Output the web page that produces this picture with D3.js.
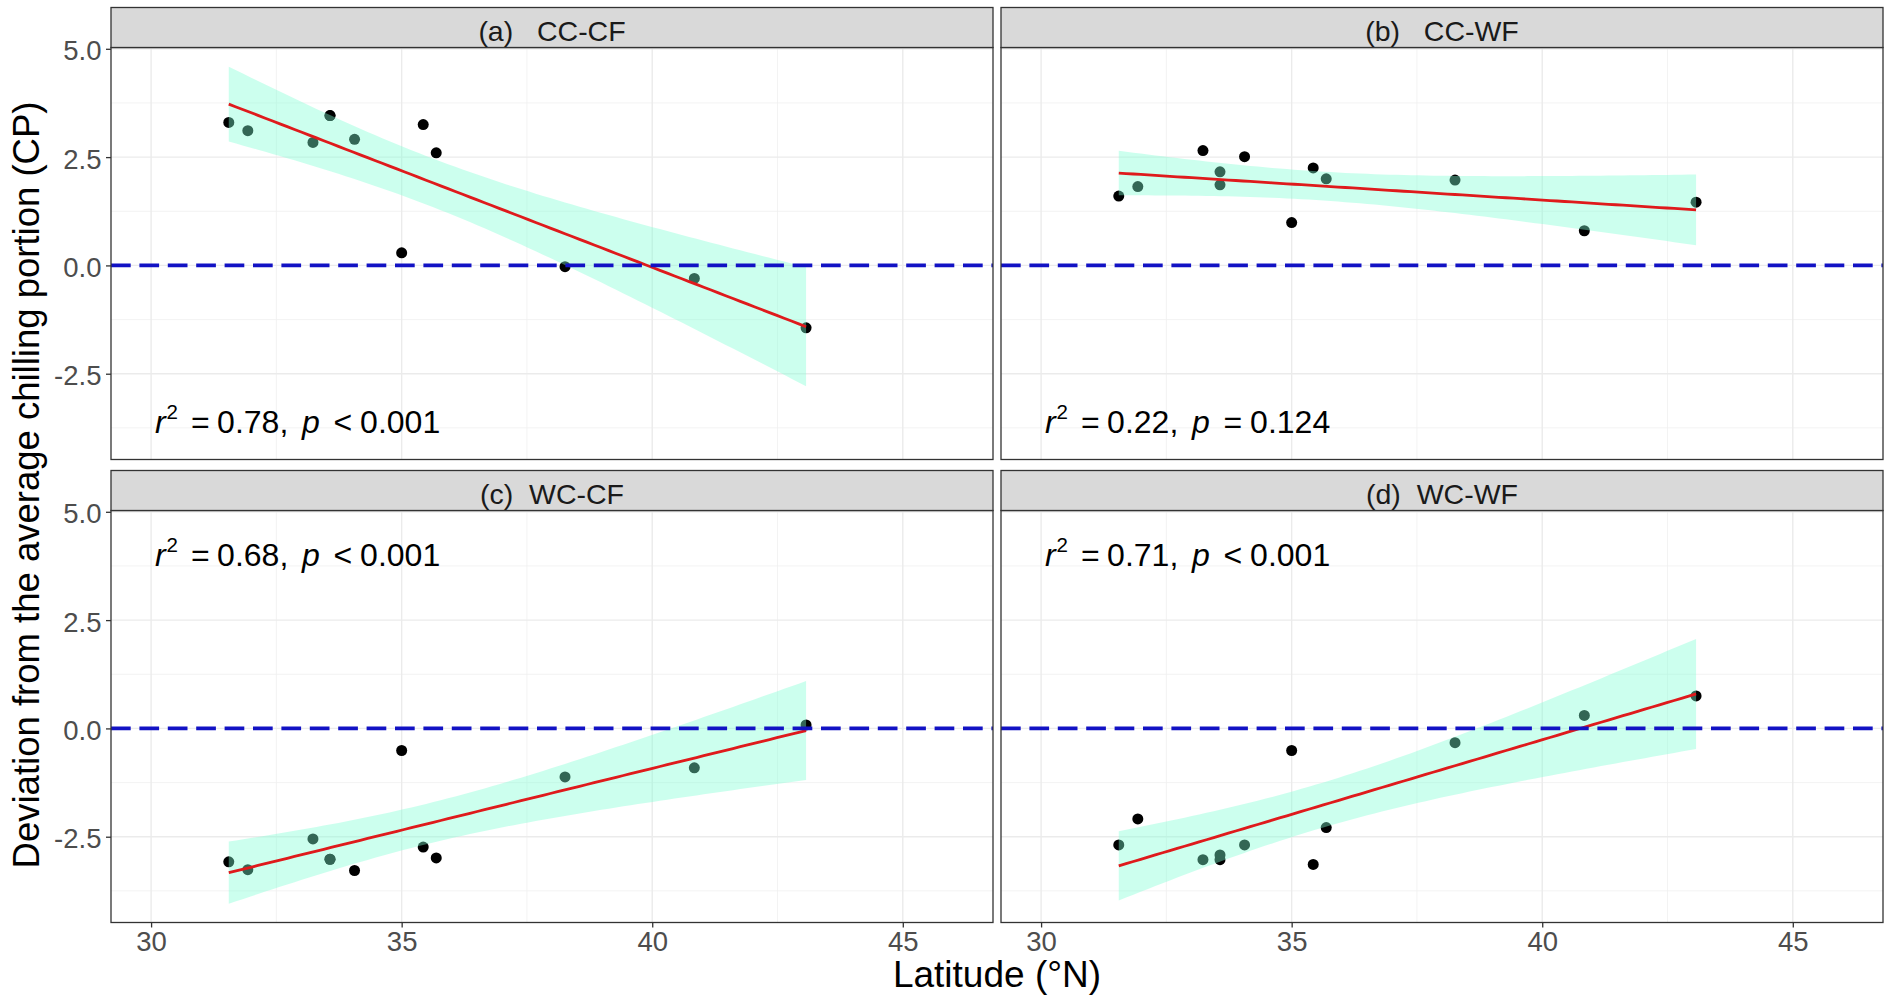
<!DOCTYPE html>
<html>
<head>
<meta charset="utf-8">
<script src="https://cdn.jsdelivr.net/npm/d3@7"></script>
<style>
  body { margin: 0; background: #ffffff; }
  svg text { font-family: "Liberation Sans", Arial, Helvetica, sans-serif; }
</style>
</head>
<body>
<svg id="chart" width="1889" height="998"></svg>
<script>
// Site latitudes (°N), shared by all four panels
const latitude = [31.55, 31.93, 33.23, 33.57, 33.57, 34.06, 35.00, 35.43, 35.69, 38.26, 40.84, 43.07];

// Deviation from the average chilling portion (CP) per scenario
const ccCF = [3.30, 3.11, 2.84, 3.46, 3.46, 2.91, 0.29, 3.25, 2.60, -0.03, -0.30, -1.44];
const ccWF = [1.60, 1.82, 2.65, 2.16, 1.86, 2.51, 0.99, 2.25, 2.00, 1.97, 0.80, 1.46];
const wcCF = [-3.08, -3.26, -2.55, -3.02, -3.02, -3.28, -0.51, -2.74, -2.99, -1.12, -0.91, 0.08];
const wcWF = [-2.69, -2.09, -3.03, -3.03, -2.92, -2.69, -0.51, -3.14, -2.29, -0.33, 0.30, 0.75];

const panelTitles = ["(a)   CC-CF", "(b)   CC-WF", "(c)  WC-CF", "(d)  WC-WF"];
const r2Values = ["0.78", "0.22", "0.68", "0.71"];
const pValues = ["< 0.001", "= 0.124", "< 0.001", "< 0.001"];
const statLabelX = 30.08;
const statLabelY = [-3.86, -3.86, 3.76, 3.76];

const xTicks = [30, 35, 40, 45];
const xMinorTicks = [32.5, 37.5, 42.5];
const yTicks = [-2.5, 0, 2.5, 5.0];
const yMinorTicks = [-3.75, -1.25, 1.25, 3.75];
const xLimits = [29.2, 46.8];
const yLimits = [-4.48, 5.03];
const referenceLevel = 0;

const xTitle = "Latitude (°N)";
const yTitle = "Deviation from the average chilling portion (CP)";

// ---------- layout ----------
const font = '"Liberation Sans", Arial, Helvetica, sans-serif';
const colX = [111, 1001];
const rowY = [7.5, 470.5];
const panelW = 882, panelH = 412, stripH = 40;

const series = [ccCF, ccWF, wcCF, wcWF];

// Ordinary least squares fit with a 95% confidence band, as geom_smooth(method = "lm")
const tCrit = { 9: 2.262, 10: 2.228, 11: 2.201 };
function linearFit(xs, ys, steps = 80) {
  const n = xs.length;
  const mx = d3.mean(xs), my = d3.mean(ys);
  let sxx = 0, sxy = 0;
  xs.forEach((x, i) => { sxx += (x - mx) ** 2; sxy += (x - mx) * (ys[i] - my); });
  const slope = sxy / sxx, intercept = my - slope * mx;
  let sse = 0;
  xs.forEach((x, i) => { sse += (ys[i] - intercept - slope * x) ** 2; });
  const s = Math.sqrt(sse / (n - 2));
  const t = tCrit[n - 2];
  const [lo, hi] = d3.extent(xs);
  return d3.range(steps).map(k => {
    const x = lo + (hi - lo) * k / (steps - 1);
    const fit = intercept + slope * x;
    const se = s * Math.sqrt(1 / n + (x - mx) ** 2 / sxx);
    return { x, fit, lower: fit - t * se, upper: fit + t * se };
  });
}

const svg = d3.select("#chart");

series.forEach((values, idx) => {
  const col = idx % 2, row = Math.floor(idx / 2);
  const left = colX[col];
  const stripTop = rowY[row];
  const top = stripTop + stripH;

  const x = d3.scaleLinear().domain(xLimits).range([left, left + panelW]);
  const y = d3.scaleLinear().domain(yLimits).range([top + panelH, top]);

  const g = svg.append("g");

  // panel background
  g.append("rect").attr("x", left).attr("y", top).attr("width", panelW).attr("height", panelH)
    .attr("fill", "#ffffff");

  // minor grid
  g.selectAll(".vminor").data(xMinorTicks).join("line")
    .attr("x1", d => x(d)).attr("x2", d => x(d)).attr("y1", top).attr("y2", top + panelH)
    .attr("stroke", "#F0F0F0").attr("stroke-width", 0.8);
  g.selectAll(".hminor").data(yMinorTicks).join("line")
    .attr("x1", left).attr("x2", left + panelW).attr("y1", d => y(d)).attr("y2", d => y(d))
    .attr("stroke", "#F0F0F0").attr("stroke-width", 0.8);
  // major grid
  g.selectAll(".vmajor").data(xTicks).join("line")
    .attr("x1", d => x(d)).attr("x2", d => x(d)).attr("y1", top).attr("y2", top + panelH)
    .attr("stroke", "#EBEBEB").attr("stroke-width", 1.4);
  g.selectAll(".hmajor").data(yTicks).join("line")
    .attr("x1", left).attr("x2", left + panelW).attr("y1", d => y(d)).attr("y2", d => y(d))
    .attr("stroke", "#EBEBEB").attr("stroke-width", 1.4);

  // observations
  g.selectAll(".pt").data(values.map((v, i) => ({ lat: latitude[i], v }))).join("circle")
    .attr("cx", d => x(d.lat)).attr("cy", d => y(d.v)).attr("r", 5.5)
    .attr("fill", "#000000");

  // regression with confidence band
  const fit = linearFit(latitude, values);
  g.append("path").datum(fit)
    .attr("d", d3.area().x(d => x(d.x)).y0(d => y(d.lower)).y1(d => y(d.upper)))
    .attr("fill", "#7FFFD4").attr("fill-opacity", 0.4);
  g.append("path").datum(fit)
    .attr("d", d3.line().x(d => x(d.x)).y(d => y(d.fit)))
    .attr("fill", "none").attr("stroke", "#DF1A1C").attr("stroke-width", 2.8);

  // reference line at zero deviation
  g.append("line")
    .attr("x1", left).attr("x2", left + panelW)
    .attr("y1", y(referenceLevel)).attr("y2", y(referenceLevel))
    .attr("stroke", "#1212C4").attr("stroke-width", 3.6)
    .attr("stroke-dasharray", "19.7 8.7");

  // statistics label
  const sx = x(statLabelX), sy = y(statLabelY[idx]);
  const t = g.append("text").attr("x", sx).attr("y", sy)
    .attr("font-size", 32).attr("fill", "#000000");
  t.append("tspan").attr("font-style", "italic").text("r");
  t.append("tspan").attr("x", sx + 11.4).attr("dy", -13.5).attr("font-size", 20.5).text("2");
  t.append("tspan").attr("x", sx + 36).attr("dy", 13.5).text("=");
  t.append("tspan").attr("x", sx + 62).text(r2Values[idx] + ",");
  t.append("tspan").attr("x", sx + 147).attr("font-style", "italic").text("p");
  const [rel, num] = pValues[idx].split(" ");
  t.append("tspan").attr("x", sx + 178.5).text(rel);
  t.append("tspan").attr("x", sx + 205).text(num);

  // panel border
  g.append("rect").attr("x", left).attr("y", top).attr("width", panelW).attr("height", panelH)
    .attr("fill", "none").attr("stroke", "#333333").attr("stroke-width", 1.3);

  // strip
  g.append("rect").attr("x", left).attr("y", stripTop).attr("width", panelW).attr("height", stripH)
    .attr("fill", "#D9D9D9").attr("stroke", "#333333").attr("stroke-width", 1.3);
  g.append("text").attr("x", left + panelW / 2).attr("y", stripTop + 33)
    .attr("text-anchor", "middle").attr("font-size", 28.5).attr("fill", "#1A1A1A")
    .style("white-space", "pre").text(panelTitles[idx]);

  // y axis on left column
  if (col === 0) {
    const ax = g.append("g").attr("transform", `translate(${left},0)`)
      .call(d3.axisLeft(y).tickValues(yTicks).tickFormat(d => d.toFixed(1)).tickSize(5).tickPadding(4.5));
    ax.select(".domain").remove();
    ax.selectAll(".tick line").attr("stroke", "#333333").attr("stroke-width", 1.3);
    ax.selectAll(".tick text").attr("font-size", 27.5).attr("fill", "#4D4D4D")
      .attr("font-family", font).attr("dy", "0.40em");
  }
  // x axis on bottom row
  if (row === 1) {
    const ax = g.append("g").attr("transform", `translate(0,${top + panelH})`)
      .call(d3.axisBottom(x).tickValues(xTicks).tickFormat(d3.format("d")).tickSize(5).tickPadding(4));
    ax.select(".domain").remove();
    ax.selectAll(".tick line").attr("stroke", "#333333").attr("stroke-width", 1.3);
    ax.selectAll(".tick text").attr("font-size", 27.5).attr("fill", "#4D4D4D")
      .attr("font-family", font);
  }
});

// axis titles
svg.append("text").attr("x", (colX[0] + colX[1] + panelW) / 2).attr("y", 987)
  .attr("text-anchor", "middle").attr("font-size", 37).attr("fill", "#000000").text(xTitle);
svg.append("text")
  .attr("transform", `translate(39,${(rowY[0] + stripH + rowY[1] + stripH + panelH) / 2}) rotate(-90)`)
  .attr("text-anchor", "middle").attr("font-size", 36.5).attr("fill", "#000000").text(yTitle);
</script>
</body>
</html>
